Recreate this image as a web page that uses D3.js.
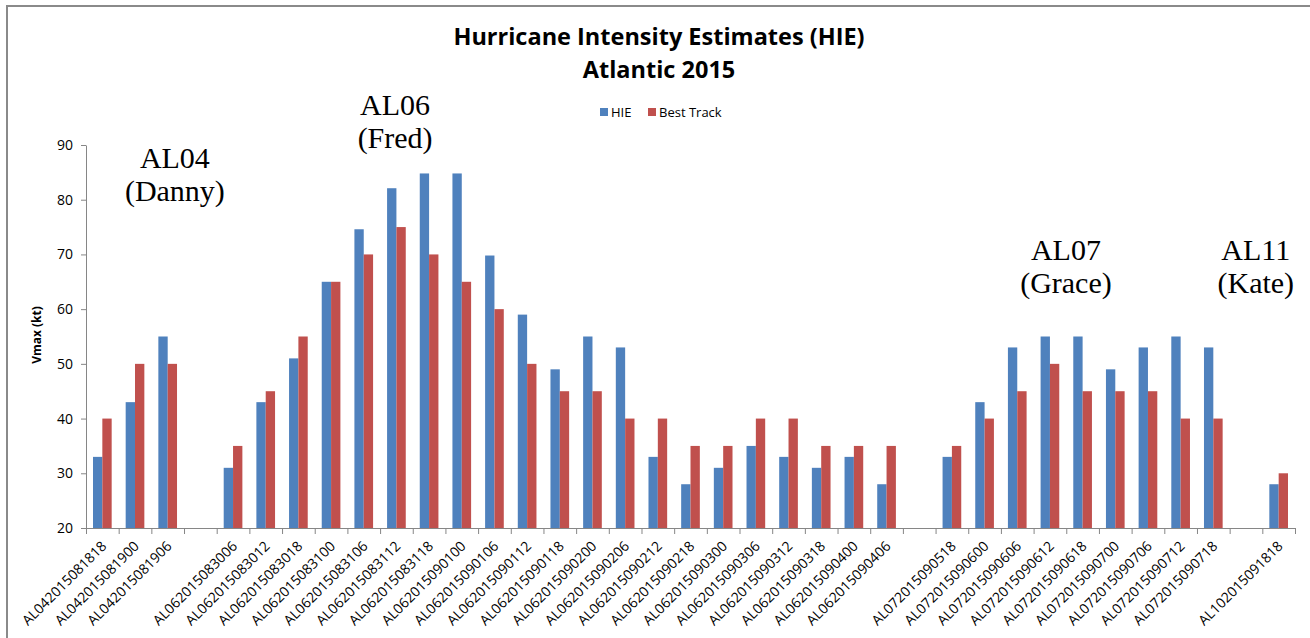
<!DOCTYPE html>
<html>
<head>
<meta charset="utf-8">
<script src="https://cdn.jsdelivr.net/npm/d3@7/dist/d3.min.js"></script>
<style>
body { margin: 0; background: #fff; }
text { font-family: 'Open Sans', sans-serif; fill: #000; }
.storm { font-family: 'Liberation Serif', 'Times New Roman', serif; font-size: 30px; }
.axis path, .axis line { stroke: #868686; }
</style>
</head>
<body>
<svg width="1310" height="638"></svg>
<script>
// categories ('' = empty slot between storms)
var categories = [
  'AL042015081818', 'AL042015081900', 'AL042015081906', '',
  'AL062015083006', 'AL062015083012', 'AL062015083018', 'AL062015083100',
  'AL062015083106', 'AL062015083112', 'AL062015083118', 'AL062015090100',
  'AL062015090106', 'AL062015090112', 'AL062015090118', 'AL062015090200',
  'AL062015090206', 'AL062015090212', 'AL062015090218', 'AL062015090300',
  'AL062015090306', 'AL062015090312', 'AL062015090318', 'AL062015090400',
  'AL062015090406', '',
  'AL072015090518', 'AL072015090600', 'AL072015090606', 'AL072015090612',
  'AL072015090618', 'AL072015090700', 'AL072015090706', 'AL072015090712',
  'AL072015090718', '',
  'AL102015091818'
];
var hie = [
  33, 43, 55, null,
  31, 43, 51, 65, 74.6, 82.1, 84.8, 84.8, 69.8, 59, 49, 55, 53, 33, 28, 31, 35, 33, 31, 33, 28, null,
  33, 43, 53, 55, 55, 49, 53, 55, 53, null,
  28
];
var bestTrack = [
  40, 50, 50, null,
  35, 45, 55, 65, 70, 75, 70, 65, 60, 50, 45, 45, 40, 40, 35, 35, 40, 40, 35, 35, 35, null,
  35, 40, 45, 50, 45, 45, 45, 40, 40, null,
  30
];
var seriesNames = ['HIE', 'Best Track'];
var yTicks = [20, 30, 40, 50, 60, 70, 80, 90];
var titleLines = ['Hurricane Intensity Estimates (HIE)', 'Atlantic 2015'];
var stormNames = [['AL04', '(Danny)'], ['AL06', '(Fred)'], ['AL07', '(Grace)'], ['AL11', '(Kate)']];

var svg = d3.select('svg');
var color = d3.scaleOrdinal().domain(seriesNames).range(['#4F81BD', '#C0504D']);

// plot area
var plot = {l: 86, r: 1295, t: 145, b: 528};

// outer chart frame
svg.append('rect')
  .attr('x', 7).attr('y', 6)
  .attr('width', 1320).attr('height', 660)
  .attr('fill', 'none')
  .attr('stroke', '#8a8a8a')
  .attr('stroke-width', 2);

var idx = d3.range(categories.length);
var x0 = d3.scaleBand().domain(idx).range([plot.l, plot.r]).padding(0);
var x1 = d3.scaleBand().domain(seriesNames).range([0, x0.bandwidth()]).paddingInner(0).paddingOuter(0.75);
var xEdge = d3.scaleLinear().domain([0, categories.length]).range([plot.l, plot.r]);
var y = d3.scaleLinear().domain([20, 90]).range([plot.b, plot.t]);

// y axis
var yAxis = svg.append('g')
  .attr('class', 'axis')
  .attr('transform', 'translate(' + plot.l + ',0)')
  .call(d3.axisLeft(y).tickValues(yTicks).tickSize(5).tickPadding(8).tickSizeOuter(0));
yAxis.selectAll('text').style('font-size', '14px').style('fill', '#000');

// bars
var rows = idx.map(function(i) {
  return {i: i, values: [{s: 'HIE', v: hie[i]}, {s: 'Best Track', v: bestTrack[i]}]};
});
var groups = svg.selectAll('.cat')
  .data(rows)
  .enter()
  .append('g')
  .attr('class', 'cat')
  .attr('transform', function(d) { return 'translate(' + x0(d.i) + ',0)'; });

groups.selectAll('rect')
  .data(function(d) { return d.values.filter(function(e) { return e.v != null; }); })
  .enter()
  .append('rect')
  .attr('x', function(d) { return x1(d.s); })
  .attr('width', x1.bandwidth())
  .attr('y', function(d) { return y(d.v); })
  .attr('height', function(d) { return y(20) - y(d.v); })
  .attr('fill', function(d) { return color(d.s); });

// x axis: ticks on category edges
svg.append('g')
  .attr('class', 'axis')
  .attr('transform', 'translate(0,' + plot.b + ')')
  .call(d3.axisBottom(xEdge).tickValues(d3.range(categories.length + 1)).tickSize(6).tickSizeOuter(0).tickFormat(''));

// x tick labels, rotated
svg.append('g')
  .selectAll('text')
  .data(idx)
  .enter()
  .append('text')
  .attr('transform', function(i) {
    return 'translate(' + (x0(i) + x0.bandwidth() / 2 + 5) + ',547) rotate(-45)';
  })
  .attr('text-anchor', 'end')
  .style('font-size', '14px')
  .text(function(i) { return categories[i]; });

// y axis title
svg.append('text')
  .attr('transform', 'translate(41,335) rotate(-90)')
  .attr('text-anchor', 'middle')
  .style('font-size', '12px')
  .style('font-weight', 'bold')
  .text('Vmax (kt)');

// title
svg.selectAll('.title')
  .data(titleLines)
  .enter()
  .append('text')
  .attr('class', 'title')
  .attr('x', 659)
  .attr('y', function(d, i) { return 45 + i * 33; })
  .attr('text-anchor', 'middle')
  .style('font-size', '23.5px')
  .style('font-weight', 'bold')
  .text(function(d) { return d; });

// legend
var legendX = [600, 648];
var legend = svg.selectAll('.legend')
  .data(seriesNames)
  .enter()
  .append('g')
  .attr('class', 'legend')
  .attr('transform', function(d, i) { return 'translate(' + legendX[i] + ',108)'; });
legend.append('rect')
  .attr('width', 8).attr('height', 8)
  .attr('fill', function(d) { return color(d); });
legend.append('text')
  .attr('x', 11).attr('y', 9)
  .style('font-size', '13px')
  .text(function(d) { return d; });

// storm annotations: centre in category units, first baseline in px
var stormPos = [[2.72, 168], [9.46, 115], [29.99, 260], [35.8, 260]];
var storms = svg.selectAll('.storm')
  .data(stormNames)
  .enter()
  .append('text')
  .attr('class', 'storm')
  .attr('text-anchor', 'middle')
  .attr('transform', function(d, i) {
    return 'translate(' + xEdge(stormPos[i][0]) + ',' + stormPos[i][1] + ')';
  });
storms.append('tspan').attr('x', 0).attr('y', 0).text(function(d) { return d[0]; });
storms.append('tspan').attr('x', 0).attr('y', 33).text(function(d) { return d[1]; });
</script>
</body>
</html>
